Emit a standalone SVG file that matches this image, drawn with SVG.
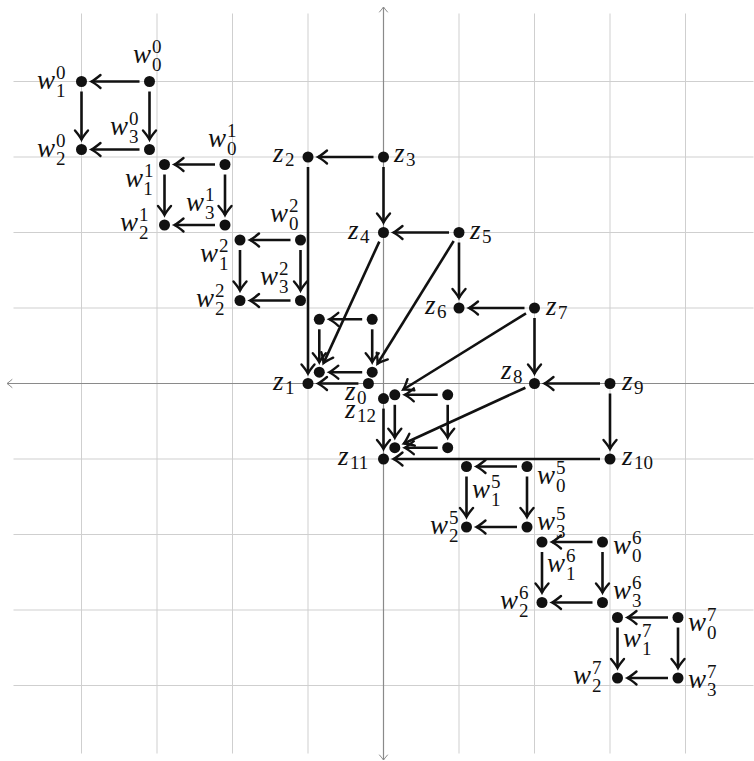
<svg xmlns="http://www.w3.org/2000/svg" width="754" height="761" viewBox="0 0 754 761">
<style>
.grid line{stroke:#cfcfcf;stroke-width:1}
.axis{stroke:#8a8a8a;stroke-width:1.2;fill:none}
.e{stroke:#111;stroke-width:2.6;fill:none;marker-end:url(#ah)}
.d{fill:#111}
.L{font-family:"Liberation Serif","DejaVu Serif",serif;fill:#111}
.b{font-style:italic;font-size:27px}
.s{font-style:normal;font-size:19px}
</style>
<defs>
<marker id="ah" markerUnits="userSpaceOnUse" viewBox="-12 -9 14 18" refX="0" refY="0" markerWidth="14" markerHeight="18" orient="auto" overflow="visible">
<path d="M-9,-6.5 Q-3,-1.5 0,0 Q-3,1.5 -9,6.5" fill="none" stroke="#111" stroke-width="2.4" stroke-linecap="round"/>
</marker>
<marker id="ax" markerUnits="userSpaceOnUse" viewBox="-7 -5 9 10" refX="0" refY="0" markerWidth="9" markerHeight="10" orient="auto-start-reverse" overflow="visible">
<path d="M-5,-4 Q-1.5,-1 0,0 Q-1.5,1 -5,4" fill="none" stroke="#8a8a8a" stroke-width="1" stroke-linecap="round"/>
</marker>
</defs>
<rect width="754" height="761" fill="#fff"/>
<g class="grid">
<line x1="81.5" y1="13.5" x2="81.5" y2="753.5"/>
<line x1="157" y1="13.5" x2="157" y2="753.5"/>
<line x1="232.5" y1="13.5" x2="232.5" y2="753.5"/>
<line x1="308" y1="13.5" x2="308" y2="753.5"/>
<line x1="459" y1="13.5" x2="459" y2="753.5"/>
<line x1="534.5" y1="13.5" x2="534.5" y2="753.5"/>
<line x1="610" y1="13.5" x2="610" y2="753.5"/>
<line x1="685.5" y1="13.5" x2="685.5" y2="753.5"/>
<line y1="81.5" x1="13.5" y2="81.5" x2="753.5"/>
<line y1="157" x1="13.5" y2="157" x2="753.5"/>
<line y1="232.5" x1="13.5" y2="232.5" x2="753.5"/>
<line y1="308" x1="13.5" y2="308" x2="753.5"/>
<line y1="459" x1="13.5" y2="459" x2="753.5"/>
<line y1="534.5" x1="13.5" y2="534.5" x2="753.5"/>
<line y1="610" x1="13.5" y2="610" x2="753.5"/>
<line y1="685.5" x1="13.5" y2="685.5" x2="753.5"/>
</g>
<g id="axes">
<line class="axis" x1="760" y1="383.5" x2="7" y2="383.5" marker-start="url(#ax)" marker-end="url(#ax)"/>
<line class="axis" x1="383.5" y1="760" x2="383.5" y2="7" marker-start="url(#ax)" marker-end="url(#ax)"/>
</g>
<g id="connectors">
<line class="e" x1="139.5" y1="81.5" x2="91.5" y2="81.5"/>
<line class="e" x1="149.5" y1="91.5" x2="149.5" y2="139.5"/>
<line class="e" x1="81.5" y1="91.5" x2="81.5" y2="139.5"/>
<line class="e" x1="139.5" y1="149.5" x2="91.5" y2="149.5"/>
<line class="e" x1="215" y1="164.5" x2="174.5" y2="164.5"/>
<line class="e" x1="225" y1="174.5" x2="225" y2="215"/>
<line class="e" x1="164.5" y1="174.5" x2="164.5" y2="215"/>
<line class="e" x1="215" y1="225" x2="174.5" y2="225"/>
<line class="e" x1="290.5" y1="240" x2="250" y2="240"/>
<line class="e" x1="300.5" y1="250" x2="300.5" y2="290.5"/>
<line class="e" x1="240" y1="250" x2="240" y2="290.5"/>
<line class="e" x1="290.5" y1="300.5" x2="250" y2="300.5"/>
<line class="e" x1="362.2" y1="319.3" x2="329.3" y2="319.3"/>
<line class="e" x1="319.3" y1="329.3" x2="319.3" y2="362.2"/>
<line class="e" x1="372.2" y1="329.3" x2="372.2" y2="362.2"/>
<line class="e" x1="362.2" y1="372.2" x2="329.3" y2="372.2"/>
<line class="e" x1="437.7" y1="394.8" x2="404.8" y2="394.8"/>
<line class="e" x1="394.8" y1="404.8" x2="394.8" y2="437.7"/>
<line class="e" x1="447.7" y1="404.8" x2="447.7" y2="437.7"/>
<line class="e" x1="437.7" y1="447.7" x2="404.8" y2="447.7"/>
<line class="e" x1="358.4" y1="383.5" x2="318" y2="383.5"/>
<line class="e" x1="308" y1="167" x2="308" y2="373.5"/>
<line class="e" x1="373.5" y1="157" x2="318" y2="157"/>
<line class="e" x1="383.5" y1="167" x2="383.5" y2="222.5"/>
<line class="e" x1="449" y1="232.5" x2="393.5" y2="232.5"/>
<line class="e" x1="459" y1="242.5" x2="459" y2="298"/>
<line class="e" x1="524.5" y1="308" x2="469" y2="308"/>
<line class="e" x1="534.5" y1="318" x2="534.5" y2="373.5"/>
<line class="e" x1="600" y1="383.5" x2="544.5" y2="383.5"/>
<line class="e" x1="610" y1="393.5" x2="610" y2="449"/>
<line class="e" x1="600" y1="459" x2="393.5" y2="459"/>
<line class="e" x1="383.5" y1="408.6" x2="383.5" y2="449"/>
<line class="e" x1="379.3" y1="241.6" x2="323.5" y2="363.1"/>
<line class="e" x1="453.7" y1="241" x2="377.5" y2="363.7"/>
<line class="e" x1="526" y1="313.3" x2="403.3" y2="389.5"/>
<line class="e" x1="525.4" y1="387.7" x2="403.9" y2="443.5"/>
<line class="e" x1="517" y1="466.5" x2="476.5" y2="466.5"/>
<line class="e" x1="527" y1="476.5" x2="527" y2="517"/>
<line class="e" x1="466.5" y1="476.5" x2="466.5" y2="517"/>
<line class="e" x1="517" y1="527" x2="476.5" y2="527"/>
<line class="e" x1="592.5" y1="542" x2="552" y2="542"/>
<line class="e" x1="602.5" y1="552" x2="602.5" y2="592.5"/>
<line class="e" x1="542" y1="552" x2="542" y2="592.5"/>
<line class="e" x1="592.5" y1="602.5" x2="552" y2="602.5"/>
<line class="e" x1="668" y1="617.5" x2="627.5" y2="617.5"/>
<line class="e" x1="678" y1="627.5" x2="678" y2="668"/>
<line class="e" x1="617.5" y1="627.5" x2="617.5" y2="668"/>
<line class="e" x1="668" y1="678" x2="627.5" y2="678"/>
</g>
<g id="w0_0"><circle class="d" cx="149.5" cy="81.5" r="5.5"/><text class="L" x="133" y="63"><tspan class="b">w</tspan><tspan class="s" dx="1" dy="-10">0</tspan><tspan class="s" dx="-9.5" dy="17.5">0</tspan></text></g>
<g id="w1_0"><circle class="d" cx="81.5" cy="81.5" r="5.5"/><text class="L" x="37" y="89"><tspan class="b">w</tspan><tspan class="s" dx="1" dy="-10">0</tspan><tspan class="s" dx="-9.5" dy="17.5">1</tspan></text></g>
<g id="w2_0"><circle class="d" cx="81.5" cy="149.5" r="5.5"/><text class="L" x="37" y="157"><tspan class="b">w</tspan><tspan class="s" dx="1" dy="-10">0</tspan><tspan class="s" dx="-9.5" dy="17.5">2</tspan></text></g>
<g id="w3_0"><circle class="d" cx="149.5" cy="149.5" r="5.5"/><text class="L" x="110" y="135"><tspan class="b">w</tspan><tspan class="s" dx="1" dy="-10">0</tspan><tspan class="s" dx="-9.5" dy="17.5">3</tspan></text></g>
<g id="w0_1"><circle class="d" cx="225" cy="164.5" r="5.5"/><text class="L" x="208" y="147"><tspan class="b">w</tspan><tspan class="s" dx="1" dy="-10">1</tspan><tspan class="s" dx="-9.5" dy="17.5">0</tspan></text></g>
<g id="w1_1"><circle class="d" cx="164.5" cy="164.5" r="5.5"/><text class="L" x="125" y="187"><tspan class="b">w</tspan><tspan class="s" dx="1" dy="-10">1</tspan><tspan class="s" dx="-9.5" dy="17.5">1</tspan></text></g>
<g id="w2_1"><circle class="d" cx="164.5" cy="225" r="5.5"/><text class="L" x="120" y="231"><tspan class="b">w</tspan><tspan class="s" dx="1" dy="-10">1</tspan><tspan class="s" dx="-9.5" dy="17.5">2</tspan></text></g>
<g id="w3_1"><circle class="d" cx="225" cy="225" r="5.5"/><text class="L" x="186" y="211"><tspan class="b">w</tspan><tspan class="s" dx="1" dy="-10">1</tspan><tspan class="s" dx="-9.5" dy="17.5">3</tspan></text></g>
<g id="w0_2"><circle class="d" cx="300.5" cy="240" r="5.5"/><text class="L" x="270" y="222"><tspan class="b">w</tspan><tspan class="s" dx="1" dy="-10">2</tspan><tspan class="s" dx="-9.5" dy="17.5">0</tspan></text></g>
<g id="w1_2"><circle class="d" cx="240" cy="240" r="5.5"/><text class="L" x="200" y="262"><tspan class="b">w</tspan><tspan class="s" dx="1" dy="-10">2</tspan><tspan class="s" dx="-9.5" dy="17.5">1</tspan></text></g>
<g id="w2_2"><circle class="d" cx="240" cy="300.5" r="5.5"/><text class="L" x="196" y="307"><tspan class="b">w</tspan><tspan class="s" dx="1" dy="-10">2</tspan><tspan class="s" dx="-9.5" dy="17.5">2</tspan></text></g>
<g id="w3_2"><circle class="d" cx="300.5" cy="300.5" r="5.5"/><text class="L" x="260" y="285"><tspan class="b">w</tspan><tspan class="s" dx="1" dy="-10">2</tspan><tspan class="s" dx="-9.5" dy="17.5">3</tspan></text></g>
<g id="m_tl"><circle class="d" cx="319.3" cy="319.3" r="5.5"/></g>
<g id="m_tr"><circle class="d" cx="372.2" cy="319.3" r="5.5"/></g>
<g id="m_bl"><circle class="d" cx="319.3" cy="372.2" r="5.5"/></g>
<g id="m_br"><circle class="d" cx="372.2" cy="372.2" r="5.5"/></g>
<g id="l_tl"><circle class="d" cx="394.8" cy="394.8" r="5.5"/></g>
<g id="l_tr"><circle class="d" cx="447.7" cy="394.8" r="5.5"/></g>
<g id="l_bl"><circle class="d" cx="394.8" cy="447.7" r="5.5"/></g>
<g id="l_br"><circle class="d" cx="447.7" cy="447.7" r="5.5"/></g>
<g id="z0"><circle class="d" cx="368.4" cy="383.5" r="5.5"/><text class="L" x="345" y="400"><tspan class="b">z</tspan><tspan class="s" dx="1.5" dy="4">0</tspan></text></g>
<g id="z1"><circle class="d" cx="308" cy="383.5" r="5.5"/><text class="L" x="273" y="390"><tspan class="b">z</tspan><tspan class="s" dx="1.5" dy="4">1</tspan></text></g>
<g id="z2"><circle class="d" cx="308" cy="157" r="5.5"/><text class="L" x="273" y="162"><tspan class="b">z</tspan><tspan class="s" dx="1.5" dy="4">2</tspan></text></g>
<g id="z3"><circle class="d" cx="383.5" cy="157" r="5.5"/><text class="L" x="394" y="162"><tspan class="b">z</tspan><tspan class="s" dx="1.5" dy="4">3</tspan></text></g>
<g id="z4"><circle class="d" cx="383.5" cy="232.5" r="5.5"/><text class="L" x="348" y="239"><tspan class="b">z</tspan><tspan class="s" dx="1.5" dy="4">4</tspan></text></g>
<g id="z5"><circle class="d" cx="459" cy="232.5" r="5.5"/><text class="L" x="470" y="239"><tspan class="b">z</tspan><tspan class="s" dx="1.5" dy="4">5</tspan></text></g>
<g id="z6"><circle class="d" cx="459" cy="308" r="5.5"/><text class="L" x="425" y="314"><tspan class="b">z</tspan><tspan class="s" dx="1.5" dy="4">6</tspan></text></g>
<g id="z7"><circle class="d" cx="534.5" cy="308" r="5.5"/><text class="L" x="546" y="315"><tspan class="b">z</tspan><tspan class="s" dx="1.5" dy="4">7</tspan></text></g>
<g id="z8"><circle class="d" cx="534.5" cy="383.5" r="5.5"/><text class="L" x="501" y="379"><tspan class="b">z</tspan><tspan class="s" dx="1.5" dy="4">8</tspan></text></g>
<g id="z9"><circle class="d" cx="610" cy="383.5" r="5.5"/><text class="L" x="622" y="390"><tspan class="b">z</tspan><tspan class="s" dx="1.5" dy="4">9</tspan></text></g>
<g id="z10"><circle class="d" cx="610" cy="459" r="5.5"/><text class="L" x="622" y="465"><tspan class="b">z</tspan><tspan class="s" dx="1.5" dy="4">10</tspan></text></g>
<g id="z11"><circle class="d" cx="383.5" cy="459" r="5.5"/><text class="L" x="338" y="465"><tspan class="b">z</tspan><tspan class="s" dx="1.5" dy="4">11</tspan></text></g>
<g id="z12"><circle class="d" cx="383.5" cy="398.6" r="5.5"/><text class="L" x="345" y="418"><tspan class="b">z</tspan><tspan class="s" dx="1.5" dy="4">12</tspan></text></g>
<g id="w0_5"><circle class="d" cx="527" cy="466.5" r="5.5"/><text class="L" x="537" y="484"><tspan class="b">w</tspan><tspan class="s" dx="1" dy="-10">5</tspan><tspan class="s" dx="-9.5" dy="17.5">0</tspan></text></g>
<g id="w1_5"><circle class="d" cx="466.5" cy="466.5" r="5.5"/><text class="L" x="472" y="498"><tspan class="b">w</tspan><tspan class="s" dx="1" dy="-10">5</tspan><tspan class="s" dx="-9.5" dy="17.5">1</tspan></text></g>
<g id="w2_5"><circle class="d" cx="466.5" cy="527" r="5.5"/><text class="L" x="430" y="534"><tspan class="b">w</tspan><tspan class="s" dx="1" dy="-10">5</tspan><tspan class="s" dx="-9.5" dy="17.5">2</tspan></text></g>
<g id="w3_5"><circle class="d" cx="527" cy="527" r="5.5"/><text class="L" x="537" y="530"><tspan class="b">w</tspan><tspan class="s" dx="1" dy="-10">5</tspan><tspan class="s" dx="-9.5" dy="17.5">3</tspan></text></g>
<g id="w0_6"><circle class="d" cx="602.5" cy="542" r="5.5"/><text class="L" x="613" y="554"><tspan class="b">w</tspan><tspan class="s" dx="1" dy="-10">6</tspan><tspan class="s" dx="-9.5" dy="17.5">0</tspan></text></g>
<g id="w1_6"><circle class="d" cx="542" cy="542" r="5.5"/><text class="L" x="547" y="572"><tspan class="b">w</tspan><tspan class="s" dx="1" dy="-10">6</tspan><tspan class="s" dx="-9.5" dy="17.5">1</tspan></text></g>
<g id="w2_6"><circle class="d" cx="542" cy="602.5" r="5.5"/><text class="L" x="500" y="609"><tspan class="b">w</tspan><tspan class="s" dx="1" dy="-10">6</tspan><tspan class="s" dx="-9.5" dy="17.5">2</tspan></text></g>
<g id="w3_6"><circle class="d" cx="602.5" cy="602.5" r="5.5"/><text class="L" x="613" y="599"><tspan class="b">w</tspan><tspan class="s" dx="1" dy="-10">6</tspan><tspan class="s" dx="-9.5" dy="17.5">3</tspan></text></g>
<g id="w0_7"><circle class="d" cx="678" cy="617.5" r="5.5"/><text class="L" x="688" y="631"><tspan class="b">w</tspan><tspan class="s" dx="1" dy="-10">7</tspan><tspan class="s" dx="-9.5" dy="17.5">0</tspan></text></g>
<g id="w1_7"><circle class="d" cx="617.5" cy="617.5" r="5.5"/><text class="L" x="623" y="647"><tspan class="b">w</tspan><tspan class="s" dx="1" dy="-10">7</tspan><tspan class="s" dx="-9.5" dy="17.5">1</tspan></text></g>
<g id="w2_7"><circle class="d" cx="617.5" cy="678" r="5.5"/><text class="L" x="573" y="684"><tspan class="b">w</tspan><tspan class="s" dx="1" dy="-10">7</tspan><tspan class="s" dx="-9.5" dy="17.5">2</tspan></text></g>
<g id="w3_7"><circle class="d" cx="678" cy="678" r="5.5"/><text class="L" x="688" y="688"><tspan class="b">w</tspan><tspan class="s" dx="1" dy="-10">7</tspan><tspan class="s" dx="-9.5" dy="17.5">3</tspan></text></g>
</svg>
